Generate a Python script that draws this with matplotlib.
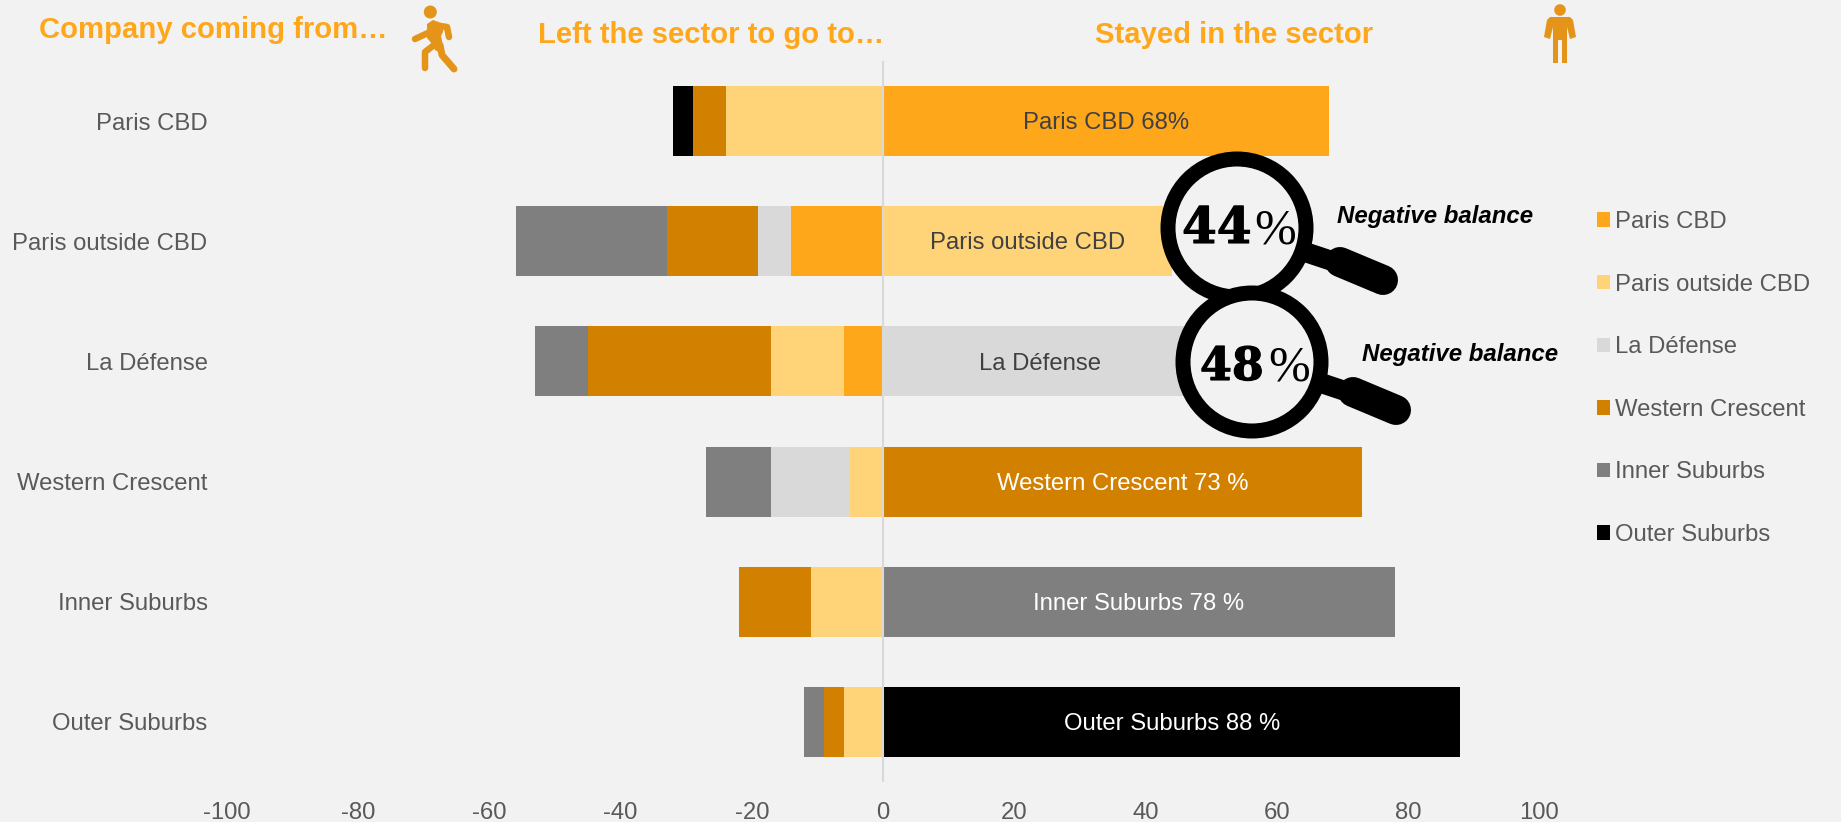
import matplotlib
matplotlib.use("Agg")
import numpy as np
import matplotlib.pyplot as plt
import matplotlib.patheffects as pe
from matplotlib.patches import Circle, Polygon

plt.rcParams['font.family'] = ['Liberation Sans', 'DejaVu Sans']
plt.rcParams['axes.unicode_minus'] = False

W, H = 1841, 822
BG = "#F2F2F2"
GREY_TEXT = "#595959"
TITLE_COL = "#FFA71B"
ICON_COL = "#E5941A"

sectors = ["Paris CBD", "Paris outside CBD", "La Défense",
           "Western Crescent", "Inner Suburbs", "Outer Suburbs"]
sector_colors = ["#FFA71B", "#FFD378", "#D9D9D9", "#D28000", "#7F7F7F", "#000000"]

# share of companies leaving, per destination (one list per destination)
left_paris_cbd = [0, 14, 6, 0, 0, 0]
left_paris_out = [24, 0, 11, 5, 11, 6]
left_defense = [0, 5, 0, 12, 0, 0]
left_western = [5, 14, 28, 0, 11, 3]
left_inner = [0, 23, 8, 10, 0, 3]
left_outer = [3, 0, 0, 0, 0, 0]

stayed = [68, 44, 48, 73, 78, 88]
stayed_labels = ["Paris CBD 68%", "Paris outside CBD", "La Défense",
                 "Western Crescent 73 %", "Inner Suburbs 78 %", "Outer Suburbs 88 %"]
stayed_label_colors = ["#404040", "#404040", "#404040", "white", "white", "white"]

xticks = [-100, -80, -60, -40, -20, 0, 20, 40, 60, 80, 100]

fig = plt.figure(figsize=(W / 100, H / 100), dpi=100, facecolor=BG)
ax = fig.add_axes([227 / W, (H - 782) / H, 1312 / W, 721 / H], facecolor=BG)

y = np.arange(len(sectors))
bar_h = 0.582

# left side, stacked towards negative values
left_series = [left_paris_cbd, left_paris_out, left_defense,
               left_western, left_inner, left_outer]
cum = np.zeros(len(sectors))
handles = []
for name, col, vals in zip(sectors, sector_colors, left_series):
    vals = np.array(vals)
    b = ax.barh(y, -vals, left=-cum, height=bar_h, color=col, label=name)
    handles.append(b)
    cum += vals

# right side, one colour per sector
right = ax.barh(y, stayed, height=bar_h, color=sector_colors)
txts = ax.bar_label(right, labels=stayed_labels, label_type="center", fontsize=17.2)
for t, c in zip(txts, stayed_label_colors):
    t.set_color(c)
    t.xyann = (0, -1.6)

ax.axvline(0, color="#D9D9D9", lw=1.5, zorder=3)

ax.set_xlim(-100, 100)
ax.set_ylim(5.5, -0.5)
ax.set_xticks(xticks)
ax.set_yticks(y)
ax.set_yticklabels(sectors)
ax.tick_params(axis="x", length=0, pad=14.5, labelsize=17.2, labelcolor=GREY_TEXT)
ax.tick_params(axis="y", length=0, pad=14, labelsize=17.2, labelcolor=GREY_TEXT)
for s in ax.spines.values():
    s.set_visible(False)

fig.legend(handles=handles, loc="upper left", bbox_to_anchor=(1597 / W, 1 - 211 / H),
           frameon=False, fontsize=17.2, labelcolor=GREY_TEXT, borderpad=0, borderaxespad=0,
           handlelength=0.55, handleheight=0.55, handletextpad=0.22, labelspacing=1.70)

# overlay in pixel coordinates for titles, icons and the magnifiers
ov = fig.add_axes([0, 0, 1, 1], facecolor="none", zorder=5)
ov.set_xlim(0, W)
ov.set_ylim(H, 0)
ov.axis("off")

ov.text(39, 30, "Company coming from…", fontsize=21.1, fontweight="bold", color=TITLE_COL, va="center")
ov.text(538, 35, "Left the sector to go to…", fontsize=21.1, fontweight="bold", color=TITLE_COL, va="center")
ov.text(1095, 35, "Stayed in the sector", fontsize=21.1, fontweight="bold", color=TITLE_COL, va="center")


def px(w):
    return w * 72 / 100


def limb(points, width):
    xs, ys = zip(*points)
    ov.plot(xs, ys, color=ICON_COL, lw=px(width), solid_capstyle="round", solid_joinstyle="round")


# walking man
ov.add_patch(Circle((430.3, 12), 6.5, color=ICON_COL, lw=0))
ov.add_patch(Polygon([(427, 24), (433, 20), (444, 24), (443, 32), (441, 36), (445, 56),
                      (435, 50), (432, 44), (427, 38)], color=ICON_COL, lw=0))
limb([(440, 26), (447, 27), (449, 37)], 6.5)
limb([(430, 32), (415, 39)], 6.5)
limb([(434, 45), (425, 52), (425, 68)], 6.5)
limb([(440, 45), (442, 55), (454, 69)], 7)

# standing man
ov.add_patch(Circle((1560, 10), 5.8, color=ICON_COL, lw=0))
ov.add_patch(Polygon([(1550, 17), (1570, 17), (1573, 20), (1576, 37), (1570, 39), (1567, 27),
                      (1567, 63), (1562, 63), (1562, 40), (1558, 40), (1558, 63), (1553, 63),
                      (1553, 27), (1550, 39), (1544, 37), (1547, 20)], color=ICON_COL, lw=0))


def magnifier(cx, cy, dx, dy):
    ov.plot([1308 + dx, 1338 + dx], [253 + dy, 263 + dy], color="black", lw=px(20), solid_capstyle="butt")
    ov.plot([1340 + dx, 1383 + dx], [262 + dy, 280 + dy], color="black", lw=px(30), solid_capstyle="round")
    ov.add_patch(Circle((cx, cy), 69, facecolor=BG, edgecolor="black", lw=px(15)))


magnifier(1237, 228, 0, 0)
magnifier(1252, 362, 13, 130)

heavy = [pe.withStroke(linewidth=0.8, foreground="black")]
ov.text(1182, 243, "44", fontsize=36, family="DejaVu Serif", fontweight="bold", color="black",
        va="baseline", path_effects=heavy)
ov.text(1254, 243, "%", fontsize=36, family="Liberation Serif", color="black", va="baseline")
ov.text(1200, 380, "48", fontsize=33, family="DejaVu Serif", fontweight="bold", color="black",
        va="baseline", path_effects=heavy)
ov.text(1268, 380, "%", fontsize=36, family="Liberation Serif", color="black", va="baseline")

ov.text(1337, 216, "Negative balance", fontsize=17.3, fontweight="bold", fontstyle="italic", color="black", va="center")
ov.text(1362, 354, "Negative balance", fontsize=17.3, fontweight="bold", fontstyle="italic", color="black", va="center")

fig.savefig("out.png", dpi=100, facecolor=BG)
